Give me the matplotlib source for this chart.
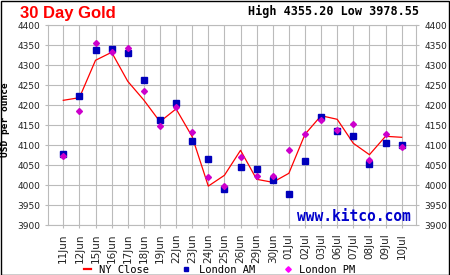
import matplotlib
matplotlib.use('Agg')
import matplotlib.pyplot as plt
from matplotlib.lines import Line2D
from matplotlib.patches import Rectangle

dates = ['11Jun', '12Jun', '15Jun', '16Jun', '17Jun', '18Jun', '19Jun', '22Jun',
         '23Jun', '24Jun', '25Jun', '26Jun', '29Jun', '30Jun', '01Jul', '02Jul',
         '03Jul', '06Jul', '07Jul', '08Jul', '09Jul', '10Jul']
ny_close = [4212.5, 4219.0, 4312.5, 4332.5, 4260.0, 4213.0, 4159.0, 4191.0,
            4121.5, 3998.0, 4025.0, 4087.5, 4015.0, 4007.5, 4030.0, 4127.5,
            4174.0, 4165.0, 4105.0, 4076.5, 4122.5, 4120.0]
london_am = [4077.5, 4222.5, 4337.5, 4341.5, 4330.0, 4262.5, 4163.0, 4205.0,
             4110.0, 4065.0, 3991.0, 4045.0, 4040.0, 4012.0, 3978.55, 4060.0,
             4171.5, 4135.0, 4122.5, 4052.5, 4105.0, 4100.0]
london_pm = [4072.5, 4185.5, 4355.2, 4334.0, 4342.5, 4236.0, 4147.5, 4195.0,
             4132.5, 4020.0, 3997.5, 4070.0, 4022.5, 4022.5, 4087.5, 4127.5,
             4163.0, 4137.5, 4152.5, 4062.5, 4127.5, 4095.0]
yticks = list(range(3900, 4401, 50))

W, H = 450.0, 275.0
GRID = '#bbbbbb'
TXT = '#222222'

fig = plt.figure(figsize=(4.5, 2.75), dpi=100)
fig.patch.set_facecolor('white')
fig.add_artist(Rectangle((0.5 / W, 0.5 / H), 1 - 1.5 / W, 1 - 1.5 / H,
                         transform=fig.transFigure, fill=False,
                         edgecolor='black', lw=1.0))

ax = fig.add_axes([48.3 / W, 1 - 225.3 / H, 367.7 / W, 200 / H])
x = list(range(len(dates)))
ax.plot(x, ny_close, color='#ff0000', lw=0.9, zorder=3)
ax.plot(x, london_am, ls='none', marker='s', color='#0000bb', ms=3.8, zorder=4)
ax.plot(x, london_pm, ls='none', marker='D', color='#cc00cc', ms=3.0, zorder=5)

ax.set_xlim(-0.93, 21.89)
ax.set_ylim(3900, 4400)
ax.set_yticks(yticks)
ax.set_xticks(x)
ax.set_xticklabels(dates, rotation=90, fontsize=7.5, family='DejaVu Sans', color=TXT)
for lab in ax.get_yticklabels():
    lab.set_family('DejaVu Sans')
ax.grid(True, color=GRID, lw=0.8)
ax.set_axisbelow(True)
for s in ax.spines.values():
    s.set_color(GRID)
    s.set_linewidth(0.8)
ax.tick_params(axis='y', labelsize=6.5, labelcolor=TXT, length=2, color=GRID,
               pad=4, left=True, right=True, labelleft=True, labelright=True)
ax.tick_params(axis='x', length=2, color=GRID, pad=4)

ax.text(411 / W * 0 + 0.985, 0.005, 'www.kitco.com', transform=ax.transAxes,
        ha='right', va='bottom', color='#0000cc', fontsize=10.5,
        family='DejaVu Sans Mono', weight='bold', zorder=6)

fig.text(20.5 / W, 1 - 18.3 / H, '30 Day Gold', color='#ff0000', fontsize=12,
         family='Liberation Sans', weight='bold', ha='left', va='baseline')
fig.text(419 / W, 1 - 15.2 / H, 'High 4355.20 Low 3978.55', color='black',
         fontsize=8.5, family='DejaVu Sans Mono', weight='bold',
         ha='right', va='baseline')
fig.text(5.5 / W, 1 - 120 / H, 'USD per ounce', rotation=90, color='black',
         fontsize=6.8, family='DejaVu Sans Mono', weight='bold',
         ha='center', va='center')

# legend
leg_y = 1 - 269.3 / H
fig.add_artist(Line2D([84.3 / W, 91 / W], [leg_y, leg_y], color='#ff0000',
                      lw=1.6, transform=fig.transFigure))
fig.add_artist(Line2D([185.7 / W], [leg_y], marker='s', ms=2.5, ls='none',
                      color='#0000bb', transform=fig.transFigure))
fig.add_artist(Line2D([287.7 / W], [leg_y], marker='D', ms=2.8, ls='none',
                      color='#ff00ff', transform=fig.transFigure))
for xp, name in [(99.3, 'NY Close'), (199, 'London AM'), (299, 'London PM')]:
    fig.text(xp / W, 1 - 273.2 / H, name, fontsize=7.5, family='DejaVu Sans Mono',
             color='black', ha='left', va='baseline')

fig.savefig('out.png', dpi=100)
